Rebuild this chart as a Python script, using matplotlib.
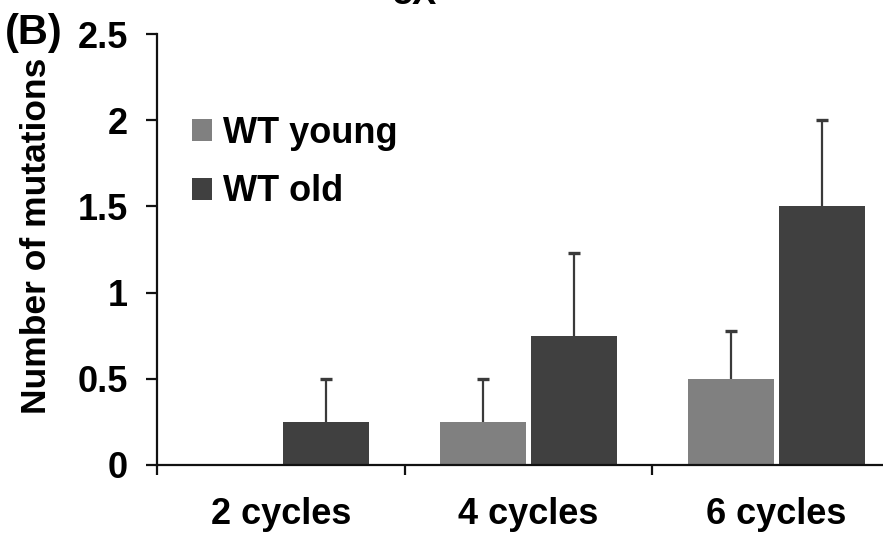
import matplotlib
matplotlib.use("Agg")
import matplotlib.pyplot as plt
import numpy as np

# Mutation counts per cycle group
categories = ["2 cycles", "4 cycles", "6 cycles"]
young = [0.0, 0.25, 0.5]
young_err = [0.0, 0.25, 0.28]
old = [0.25, 0.75, 1.5]
old_err = [0.25, 0.48, 0.5]
series_names = ["WT young", "WT old"]
ytick_values = [0, 0.5, 1, 1.5, 2, 2.5]
ytick_labels = ["0", "0.5", "1", "1.5", "2", "2.5"]

plt.rcParams["font.family"] = ["Liberation Sans", "DejaVu Sans"]
plt.rcParams["font.weight"] = "bold"

W, H = 883, 533
fig = plt.figure(figsize=(W / 100, H / 100), dpi=100)

# axes box in pixel units (right edge runs past the canvas)
left, right, bottom, top = 157, 900, 465, 34
ax = fig.add_axes([left / W, 1 - bottom / H, (right - left) / W, (bottom - top) / H])

c_young = "#808080"
c_old = "#404040"
c_err = "#3a3a3a"

x = np.arange(len(categories)) + 0.5
off = 0.184
bw = 0.347

ax.bar(x - off, young, bw, color=c_young, label=series_names[0], zorder=2)
ax.bar(x + off, old, bw, color=c_old, label=series_names[1], zorder=2)

# upper error bars only: a stem from the bar top and a cap at the end
for xs, vals, errs in ((x - off, young, young_err), (x + off, old, old_err)):
    keep = [i for i, e in enumerate(errs) if e > 0]
    ex = [xs[i] for i in keep]
    lo = [vals[i] for i in keep]
    hi = [vals[i] + errs[i] for i in keep]
    ax.vlines(ex, lo, hi, colors=c_err, linewidth=1.6, zorder=1)
    ax.plot(ex, hi, linestyle="none", marker="_", markersize=8,
            markeredgewidth=2.4, color=c_err, zorder=3)

ax.set_xlim(0, 3)
ax.set_ylim(0, 2.5)

for s in ("top", "right"):
    ax.spines[s].set_visible(False)
for s in ("left", "bottom"):
    ax.spines[s].set_linewidth(1.6)
    ax.spines[s].set_color("#111111")
    ax.spines[s].set_zorder(4)

ax.set_yticks(ytick_values)
ax.set_yticklabels(ytick_labels)
ax.tick_params(axis="y", direction="out", length=8, width=1.6, pad=13,
               labelsize=26, color="#111111")

ax.set_xticks(x)
ax.set_xticklabels(categories)
ax.set_xticks([0, 1, 2, 3], minor=True)
ax.tick_params(axis="x", which="major", length=0, pad=23, labelsize=26)
ax.tick_params(axis="x", which="minor", direction="out", length=7.5, width=1.6,
               color="#111111")

for lbl in ax.get_xticklabels() + ax.get_yticklabels():
    lbl.set_fontweight("bold")

ax.legend(
    loc="upper left", bbox_to_anchor=(192 / W, 1 - 116 / H),
    bbox_transform=fig.transFigure, frameon=False,
    handlelength=0.55, handleheight=0.55, handletextpad=0.3,
    labelspacing=0.65, borderpad=0, borderaxespad=0,
    prop={"weight": "bold", "size": 26},
)

fig.text(37 / W, 1 - 236 / H, "Number of mutations", rotation=90,
         ha="center", va="center", fontsize=25.5, fontweight="bold")
fig.text(5 / W, 1 - 44 / H, "(B)", ha="left", va="baseline",
         fontsize=30, fontweight="bold")
fig.text(415 / W, 1 - 4 / H, "5X", ha="center", va="baseline",
         fontsize=26, fontweight="bold")

fig.savefig("out.png", dpi=100)
